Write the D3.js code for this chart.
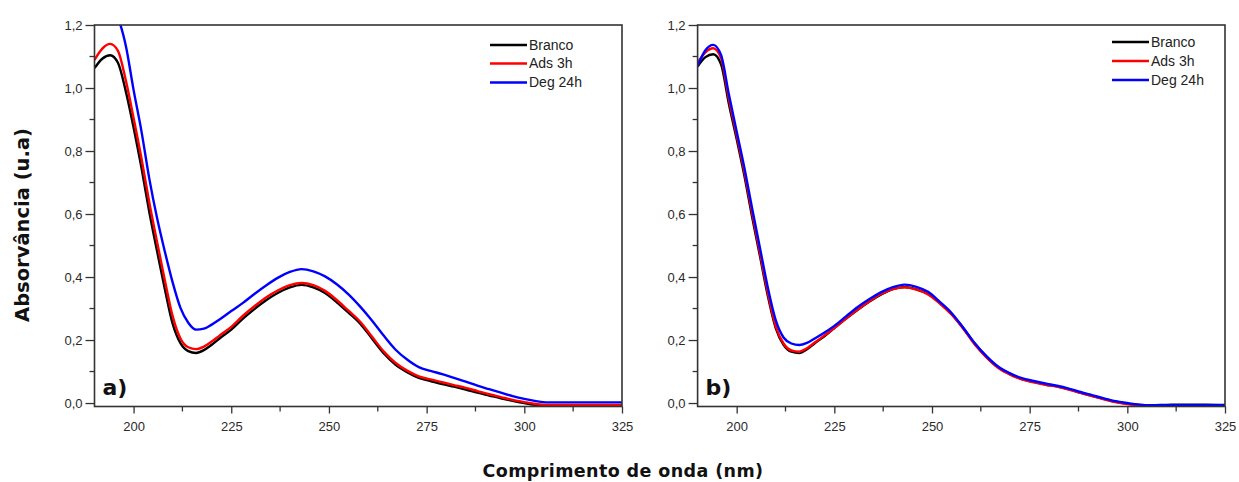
<!DOCTYPE html>
<html><head><meta charset="utf-8">
<script src="https://cdn.jsdelivr.net/npm/d3@7"></script>
<style>
body{margin:0;background:#fff;}
svg{display:block;}
</style></head>
<body><svg id="chart" width="1239" height="482"></svg>
<script>
const wavelength = [190,192,194,196,198,200,202,204,206,208,210,212,214,216,218,220,222,225,228,231,234,237,240,243,246,249,252,255,258,261,264,267,270,273,276,279,282,285,288,291,294,297,300,303,306,310,315,320,325];

const aBranco = [1.063,1.093,1.104,1.080,0.990,0.875,0.748,0.608,0.483,0.362,0.252,0.190,0.165,0.159,0.168,0.185,0.205,0.233,0.268,0.299,0.327,0.350,0.367,0.375,0.367,0.349,0.320,0.287,0.252,0.205,0.158,0.122,0.098,0.080,0.070,0.060,0.052,0.043,0.033,0.024,0.015,0.007,0.000,-0.006,-0.008,-0.008,-0.008,-0.008,-0.008];
const aAds = [1.089,1.125,1.140,1.118,1.025,0.905,0.778,0.638,0.512,0.390,0.276,0.205,0.177,0.171,0.179,0.195,0.214,0.242,0.277,0.308,0.336,0.358,0.374,0.381,0.374,0.356,0.327,0.293,0.258,0.211,0.164,0.128,0.103,0.085,0.075,0.066,0.057,0.048,0.038,0.028,0.019,0.010,0.003,-0.003,-0.006,-0.006,-0.006,-0.006,-0.006];
const aDeg = [1.210,1.245,1.255,1.222,1.135,0.994,0.864,0.714,0.588,0.481,0.383,0.302,0.255,0.233,0.236,0.249,0.265,0.292,0.318,0.347,0.374,0.398,0.416,0.425,0.418,0.402,0.377,0.345,0.306,0.262,0.214,0.170,0.138,0.114,0.102,0.092,0.080,0.068,0.055,0.044,0.033,0.022,0.013,0.006,0.002,0.002,0.002,0.002,0.002];

const bBranco = [1.068,1.098,1.107,1.075,0.950,0.838,0.720,0.588,0.464,0.339,0.238,0.185,0.163,0.159,0.171,0.190,0.208,0.238,0.268,0.296,0.322,0.345,0.362,0.368,0.361,0.346,0.318,0.283,0.238,0.188,0.146,0.113,0.092,0.076,0.067,0.059,0.053,0.044,0.033,0.023,0.013,0.004,-0.002,-0.006,-0.007,-0.006,-0.005,-0.005,-0.006];
const bAds = [1.080,1.113,1.126,1.095,0.965,0.850,0.732,0.600,0.474,0.348,0.243,0.189,0.167,0.163,0.174,0.192,0.210,0.238,0.268,0.297,0.323,0.346,0.362,0.367,0.360,0.345,0.316,0.281,0.236,0.185,0.144,0.111,0.090,0.075,0.066,0.058,0.052,0.043,0.032,0.022,0.012,0.003,-0.003,-0.007,-0.008,-0.008,-0.008,-0.008,-0.008];
const bDeg = [1.070,1.120,1.137,1.105,0.980,0.862,0.745,0.615,0.490,0.365,0.263,0.208,0.189,0.184,0.191,0.205,0.220,0.245,0.275,0.305,0.330,0.352,0.368,0.376,0.369,0.353,0.321,0.286,0.239,0.189,0.148,0.115,0.094,0.079,0.070,0.062,0.055,0.046,0.035,0.025,0.015,0.006,0.000,-0.005,-0.007,-0.007,-0.007,-0.007,-0.007];

const seriesNames = ["Branco","Ads 3h","Deg 24h"];
const seriesColors = ["#000000","#ff0000","#0000ff"];
const xTicks = [200,225,250,275,300,325];
const yTicks = [0,0.2,0.4,0.6,0.8,1.0,1.2];
const panelLabels = ["a)","b)"];

const svg = d3.select("#chart");
const fmt = d => d3.format(".1f")(d).replace(".", ",");

const panels = [
  {x0:94.5, x1:622, series:[aBranco,aAds,aDeg], label:panelLabels[0], leg:{x:490, y:[45,63.5,82.5]}},
  {x0:697.6, x1:1225, series:[bBranco,bAds,bDeg], label:panelLabels[1], leg:{x:1112, y:[42,61,80]}}
];
const yTop = 25, yBot = 406.5;

panels.forEach((p, pi) => {
  const x = d3.scaleLinear().domain([190,325]).range([p.x0,p.x1]);
  const y = d3.scaleLinear().domain([-0.011,1.2]).range([yBot,yTop]);
  const g = svg.append("g");
  const cid = "clip"+pi;
  svg.append("clipPath").attr("id",cid).append("rect")
    .attr("x",p.x0).attr("y",yTop).attr("width",p.x1-p.x0).attr("height",yBot-yTop);

  // minor ticks
  const yMinor = d3.range(0.1,1.2,0.2);
  g.selectAll(".ymin").data(yMinor).join("line")
    .attr("x1",p.x0-5).attr("x2",p.x0).attr("y1",d=>y(d)).attr("y2",d=>y(d))
    .attr("stroke","#333").attr("stroke-width",1.3);
  const xMinor = d3.range(212.5,325,25);
  g.selectAll(".xmin").data(xMinor).join("line")
    .attr("x1",d=>x(d)).attr("x2",d=>x(d)).attr("y1",yBot).attr("y2",yBot+5)
    .attr("stroke","#333").attr("stroke-width",1.3);

  // axes
  const yAxis = d3.axisLeft(y).tickValues(yTicks).tickSize(9).tickPadding(3).tickFormat(fmt);
  const ga = g.append("g").attr("transform",`translate(${p.x0},0)`).call(yAxis);
  const xAxis = d3.axisBottom(x).tickValues(xTicks).tickSize(7).tickPadding(8);
  const gb = g.append("g").attr("transform",`translate(0,${yBot})`).call(xAxis);
  [ga,gb].forEach(a=>{
    a.select(".domain").remove();
    a.selectAll("line").attr("stroke","#333").attr("stroke-width",1.3);
    a.selectAll("text").attr("font-family","Liberation Sans, Arial, sans-serif")
      .attr("font-size",13).attr("fill","#2a2a2a");
  });

  // lines
  const line = d3.line().x((d,i)=>x(wavelength[i])).y(d=>y(d)).curve(d3.curveMonotoneX);
  const lg = g.append("g").attr("clip-path",`url(#${cid})`);
  p.series.forEach((s,si)=>{
    lg.append("path").datum(s).attr("d",line).attr("fill","none")
      .attr("stroke",seriesColors[si]).attr("stroke-width",2.4).attr("stroke-linejoin","round");
  });

  // frame
  g.append("rect").attr("x",p.x0).attr("y",yTop).attr("width",p.x1-p.x0).attr("height",yBot-yTop)
    .attr("fill","none").attr("stroke","#333").attr("stroke-width",1.6);

  // legend
  seriesNames.forEach((n,si)=>{
    g.append("line").attr("x1",p.leg.x).attr("x2",p.leg.x+37)
      .attr("y1",p.leg.y[si]).attr("y2",p.leg.y[si])
      .attr("stroke",seriesColors[si]).attr("stroke-width",2.4);
    g.append("text").attr("x",p.leg.x+39).attr("y",p.leg.y[si]).attr("dy","0.35em")
      .attr("font-family","Liberation Sans, Arial, sans-serif").attr("font-size",14)
      .attr("fill","#222").text(n);
  });

  // panel label
  g.append("text").attr("x",p.x0+8).attr("y",395)
    .attr("font-family","DejaVu Sans, sans-serif").attr("font-weight","bold")
    .attr("font-size",22).attr("fill","#111").text(p.label);
});

// axis titles
svg.append("text").attr("transform","translate(29,225) rotate(-90)")
  .attr("text-anchor","middle").attr("font-family","DejaVu Sans, sans-serif")
  .attr("font-weight","bold").attr("font-size",19.5).attr("fill","#111")
  .text("Absorvância (u.a)");
svg.append("text").attr("x",623).attr("y",477)
  .attr("text-anchor","middle").attr("font-family","DejaVu Sans, sans-serif")
  .attr("font-weight","bold").attr("font-size",17.5).attr("fill","#111")
  .attr("letter-spacing",0.4)
  .text("Comprimento de onda (nm)");
</script></body></html>
